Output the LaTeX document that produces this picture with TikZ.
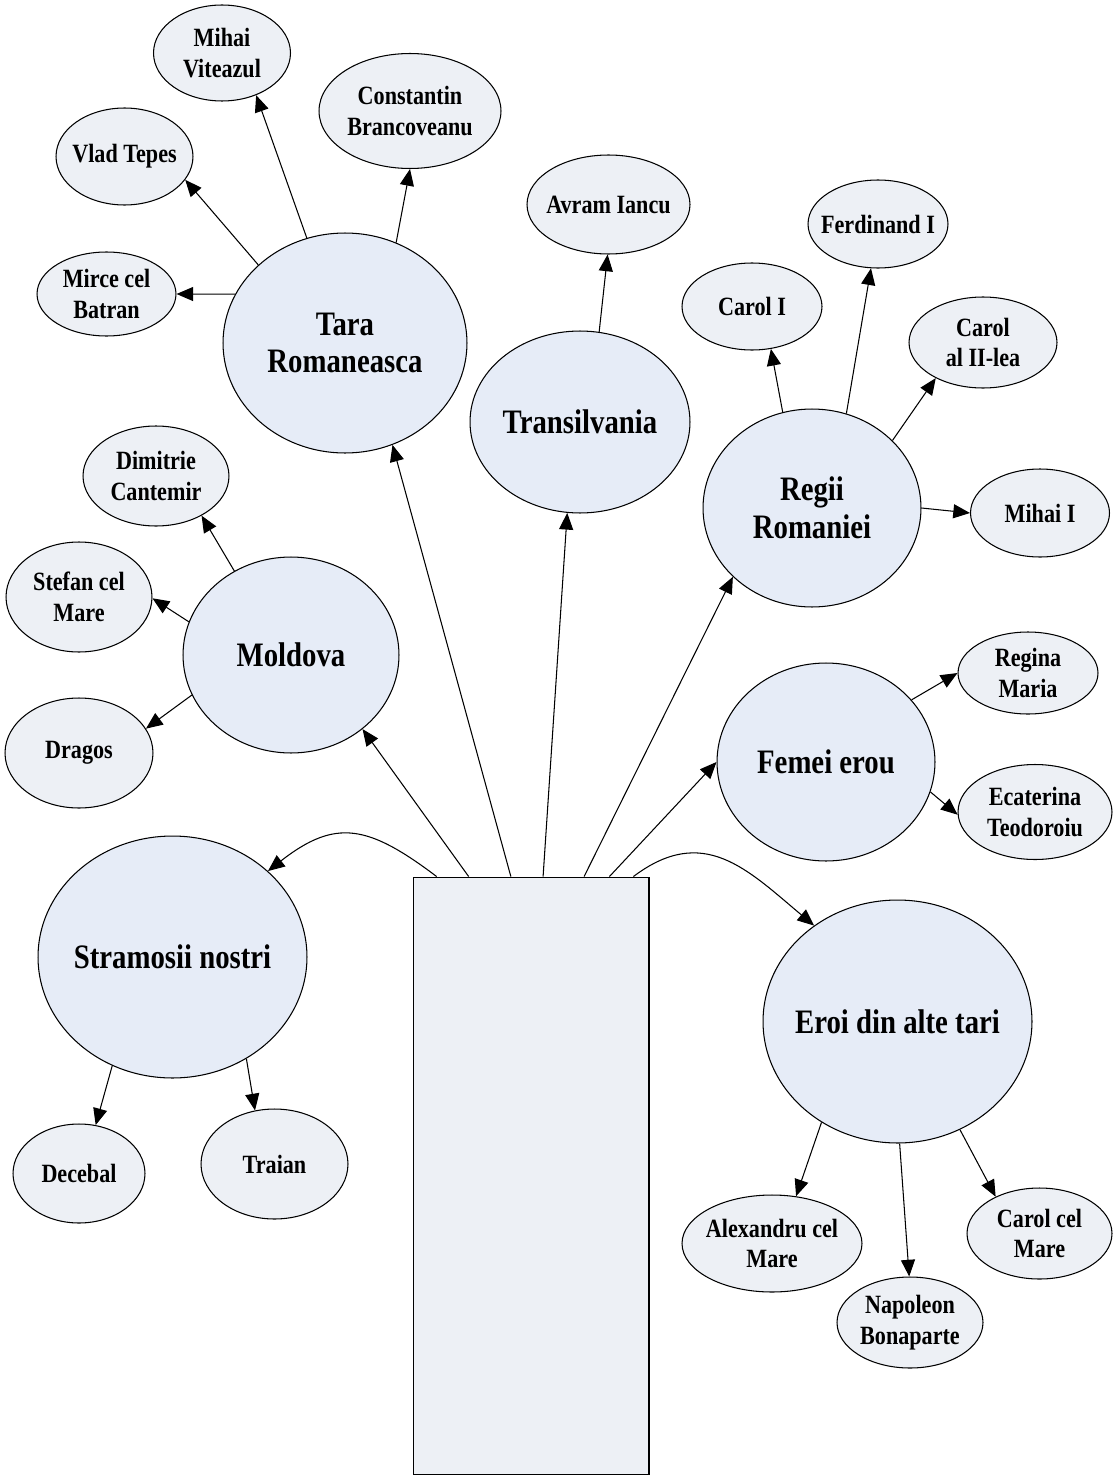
\documentclass[tikz,border=0pt]{standalone}
\usepackage{fontspec}
\setmainfont{Liberation Serif}[FakeStretch=0.84]
\usetikzlibrary{shapes.geometric,arrows.meta,calc}
\definecolor{regionfill}{RGB}{230,236,247}
\definecolor{herofill}{RGB}{237,240,245}
\tikzset{
region/.style = {draw, fill=regionfill, ellipse, inner xsep=-15pt, inner ysep=0pt, align=center, font=\bfseries\fontsize{19.5}{21.5}\selectfont},
hero/.style  = {draw, fill=herofill, ellipse, inner xsep=-15pt, inner ysep=0pt, align=center, font=\bfseries\fontsize{15}{17.6}\selectfont},
trunk/.style = {draw, fill=herofill, rectangle, inner sep=0pt}
}

\begin{document}
\begin{tikzpicture}[x=0.02cm, y=-0.02cm, line width=0.6pt, >={Triangle[length=9.5pt,width=8pt]}]
		\useasboundingbox (0,0) rectangle (1112,1477);

		% trunk
		\node [trunk, minimum width=4.72cm, minimum height=11.96cm] (trunk) at (531,1176) {};
		\coordinate (t1) at ($(trunk.north west)!0.102!(trunk.north east)$);
		\coordinate (t2) at ($(trunk.north west)!0.237!(trunk.north east)$);
		\coordinate (t3) at ($(trunk.north west)!0.415!(trunk.north east)$);
		\coordinate (t4) at ($(trunk.north west)!0.551!(trunk.north east)$);
		\coordinate (t5) at ($(trunk.north west)!0.724!(trunk.north east)$);
		\coordinate (t6) at ($(trunk.north west)!0.831!(trunk.north east)$);
		\coordinate (t7) at ($(trunk.north west)!0.932!(trunk.north east)$);

		% regions
		\node [region, minimum width=4.88cm, minimum height=4.4cm] (tara) at (345,343) {Tara\\Romaneasca};
		\node [region, minimum width=4.4cm, minimum height=3.64cm] (transilvania) at (580,422) {Transilvania};
		\node [region, minimum width=4.36cm, minimum height=3.96cm] (regii) at (812,508) {Regii\\Romaniei};
		\node [region, minimum width=4.32cm, minimum height=3.92cm] (moldova) at (291,655) {Moldova};
		\node [region, minimum width=4.36cm, minimum height=3.96cm] (femei) at (826,762) {Femei erou};
		\node [region, minimum width=5.38cm, minimum height=4.84cm] (stramosi) at (172.5,957) {Stramosii nostri};
		\node [region, minimum width=5.38cm, minimum height=4.86cm] (eroi) at (897.5,1021.5) {Eroi din alte tari};

		% heroes
		\node [hero, minimum width=2.74cm, minimum height=1.92cm] (mihai) at (222,53) {Mihai\\Viteazul};
		\node [hero, minimum width=3.64cm, minimum height=2.3cm] (brancoveanu) at (410,111) {Constantin\\Brancoveanu};
		\node [hero, minimum width=2.74cm, minimum height=1.94cm] (vlad) at (124.5,156.5) {Vlad Tepes};
		\node [hero, minimum width=2.78cm, minimum height=1.68cm] (mircea) at (106.5,294) {Mirce cel\\Batran};
		\node [hero, minimum width=3.26cm, minimum height=1.98cm] (avram) at (608.5,204.5) {Avram Iancu};
		\node [hero, minimum width=2.8cm, minimum height=1.76cm] (ferdinand) at (878,224) {Ferdinand I};
		\node [hero, minimum width=2.8cm, minimum height=1.74cm] (carolI) at (752,306.5) {Carol I};
		\node [hero, minimum width=2.96cm, minimum height=1.82cm] (carolII) at (983,342.5) {Carol\\al II-lea};
		\node [hero, minimum width=2.78cm, minimum height=1.76cm] (mihaiI) at (1040,513) {Mihai I};
		\node [hero, minimum width=2.92cm, minimum height=2cm] (cantemir) at (156,476) {Dimitrie\\Cantemir};
		\node [hero, minimum width=2.92cm, minimum height=2.2cm] (stefan) at (79,597) {Stefan cel\\Mare};
		\node [hero, minimum width=2.96cm, minimum height=2.2cm] (dragos) at (79,753) {Dragos};
		\node [hero, minimum width=2.8cm, minimum height=1.64cm] (regina) at (1028,673) {Regina\\Maria};
		\node [hero, minimum width=3.08cm, minimum height=1.9cm] (ecaterina) at (1035,812) {Ecaterina\\Teodoroiu};
		\node [hero, minimum width=2.64cm, minimum height=1.98cm] (decebal) at (79,1173.5) {Decebal};
		\node [hero, minimum width=2.94cm, minimum height=2.2cm] (traian) at (274.5,1164) {Traian};
		\node [hero, minimum width=3.6cm, minimum height=1.94cm] (alexandru) at (772,1243.5) {Alexandru cel\\Mare};
		\node [hero, minimum width=2.92cm, minimum height=1.82cm] (napoleon) at (910,1322.5) {Napoleon\\Bonaparte};
		\node [hero, minimum width=2.9cm, minimum height=1.82cm] (carolcm) at (1039.5,1233.5) {Carol cel\\Mare};

		% branches from the trunk
		\draw [->] (t1) to[out=143, in=38, looseness=1.3] (stramosi.42.3);
		\draw [->] (t2) -- (moldova.-46.6);
		\draw [->] (t3) -- (tara.-65.4);
		\draw [->] (t4) -- (transilvania.-98);
		\draw [->] (t5) -- (regii.221);
		\draw [->] (t6) -- (femei.180);
		\draw [->] (t7) to[out=37, in=140, looseness=1.2] (eroi.131.2);

		% leaves
		\draw [->] (tara.156.4) -- (mircea.0);
		\draw [->] (tara.138.4) -- (vlad.-21.2);
		\draw [->] (tara.110.9) -- (mihai.-51.8);
		\draw [->] (tara.63.7) -- (brancoveanu.-90);
		\draw [->] (transilvania.78.8) -- (avram.-91.7);
		\draw [->] (regii.107.4) -- (carolI.-66.6);
		\draw [->] (regii.70.3) -- (ferdinand.-99);
		\draw [->] (regii.40.8) -- (carolII.217.2);
		\draw [->] (regii.0) -- (mihaiI.180);
		\draw [->] (moldova.124.9) -- (cantemir.-41.7);
		\draw [->] (moldova.162.7) -- (stefan.-1);
		\draw [->] (moldova.202.5) -- (dragos.20.5);
		\draw [->] (femei.36.2) -- (regina.180);
		\draw [->] (femei.-16.1) -- (ecaterina.182);
		\draw [->] (stramosi.241.2) -- (decebal.71.7);
		\draw [->] (stramosi.-54.1) -- (traian.110.6);
		\draw [->] (eroi.233.2) -- (alexandru.63.7);
		\draw [->] (eroi.-89.8) -- (napoleon.91.3);
		\draw [->] (eroi.-60.5) -- (carolcm.140.6);
\end{tikzpicture}
\end{document}
